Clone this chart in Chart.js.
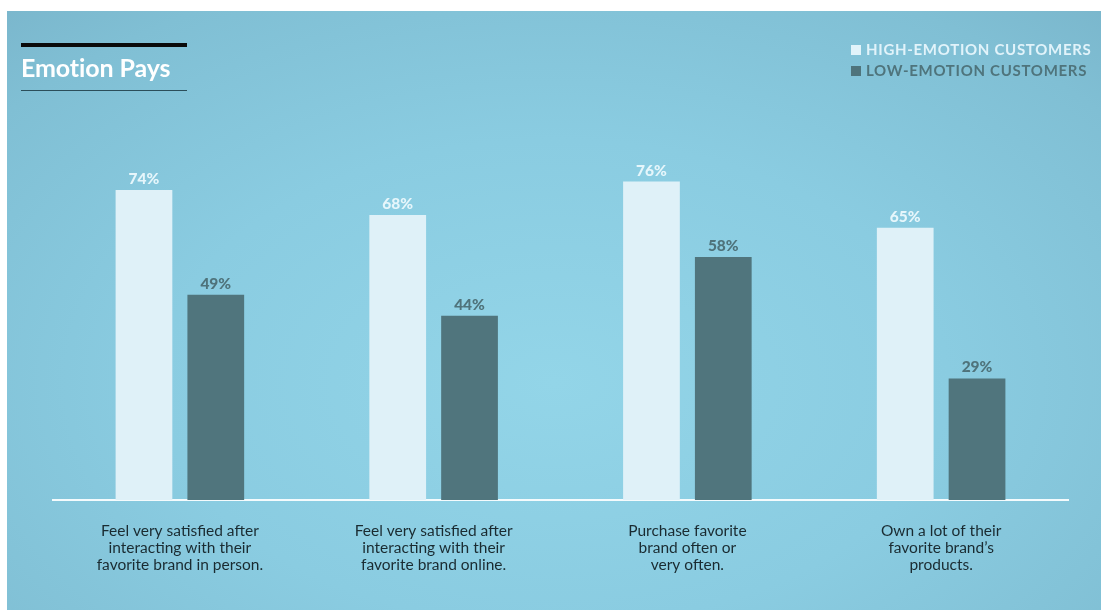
<!DOCTYPE html>
<html>
<head>
<meta charset="utf-8">
<script src="https://cdn.jsdelivr.net/npm/chart.js@4/dist/chart.umd.min.js"></script>
<style>
  html, body { margin: 0; padding: 0; background: #ffffff; }
  #wrap { position: relative; width: 1101px; height: 610px; overflow: hidden; }
  #bg { position: absolute; left: 7px; top: 11px; right: 0; bottom: 0;
        background: radial-gradient(ellipse 80% 90% at 50% 62%, #93d5e8 0%, #8acce1 45%, #80bfd4 80%, #78b3c9 100%); }
  #c { position: absolute; left: 0; top: 0; }
  .rule1 { position: absolute; left: 21px; top: 43px; width: 166px; height: 4px; background: #0a0a0a; }
  .rule2 { position: absolute; left: 21px; top: 90px; width: 166px; height: 1px; background: #2b4e5a; }
  .title { position: absolute; left: 21px; top: 52px; font-family: Lato, sans-serif; font-weight: 700;
           font-size: 25px; color: #ffffff; letter-spacing: -0.1px; }
  .leg { position: absolute; left: 851px; font-family: Lato, sans-serif; font-weight: 700; font-size: 15px;
         letter-spacing: 0.7px; white-space: nowrap; }
  .leg span.sw { display: inline-block; width: 10px; height: 10px; margin-right: 5px; vertical-align: 0px; }
</style>
</head>
<body>
<div id="wrap">
  <div id="bg"></div>
  <canvas id="c" width="1101" height="610"></canvas>
  <div class="rule1"></div>
  <div class="title">Emotion Pays</div>
  <div class="rule2"></div>
  <div class="leg" id="leg1" style="top:40px;color:#e1f3fa"><span class="sw" style="background:#e1f3fa"></span>HIGH-EMOTION CUSTOMERS</div>
  <div class="leg" id="leg2" style="top:61px;color:#4f747c"><span class="sw" style="background:#4f747c"></span>LOW-EMOTION CUSTOMERS</div>
</div>
<script>
const categories = [
  ["Feel very satisfied after", "interacting with their", "favorite brand in person."],
  ["Feel very satisfied after", "interacting with their", "favorite brand online."],
  ["Purchase favorite", "brand often or", "very often."],
  ["Own a lot of their", "favorite brand\u2019s", "products."]
];
const highEmotion = [74, 68, 76, 65];
const lowEmotion = [49, 44, 58, 29];
const seriesNames = ["HIGH-EMOTION CUSTOMERS", "LOW-EMOTION CUSTOMERS"];

const lightColor = "#dff1f8";
const darkColor = "#50757d";

const valueLabels = {
  id: "valueLabels",
  afterDatasetsDraw(chart) {
    const ctx = chart.ctx;
    ctx.save();
    ctx.font = "900 15.5px Lato, sans-serif";
    ctx.textAlign = "center";
    ctx.textBaseline = "alphabetic";
    chart.data.datasets.forEach((ds, i) => {
      const meta = chart.getDatasetMeta(i);
      ctx.fillStyle = i === 0 ? "#e6f6fb" : "#4f737b";
      meta.data.forEach((bar, j) => {
        ctx.fillText(ds.data[j] + "%", bar.x, bar.y - 6);
      });
    });
    ctx.restore();
  }
};

new Chart(document.getElementById("c"), {
  type: "bar",
  data: {
    labels: categories,
    datasets: [
      { label: seriesNames[0], data: highEmotion, backgroundColor: lightColor,
        categoryPercentage: 0.566, barPercentage: 0.79 },
      { label: seriesNames[1], data: lowEmotion, backgroundColor: darkColor,
        categoryPercentage: 0.566, barPercentage: 0.79 }
    ]
  },
  options: {
    responsive: false,
    animation: false,
    layout: { padding: { left: 53, right: 33, top: 81, bottom: 0 } },
    plugins: { legend: { display: false }, tooltip: { enabled: false } },
    scales: {
      y: { display: false, min: 0, max: 100 },
      x: {
        afterFit(scale) { scale.height = 110; },
        grid: { display: false, drawTicks: false },
        border: { display: true, color: "#f4fbfd", width: 2 },
        ticks: {
          color: "#1a2b31",
          padding: 22,
          maxRotation: 0,
          autoSkip: false,
          font: { family: "Lato, sans-serif", size: 15.5, lineHeight: 1.1 }
        }
      }
    }
  },
  plugins: [valueLabels]
});
</script>
</body>
</html>
